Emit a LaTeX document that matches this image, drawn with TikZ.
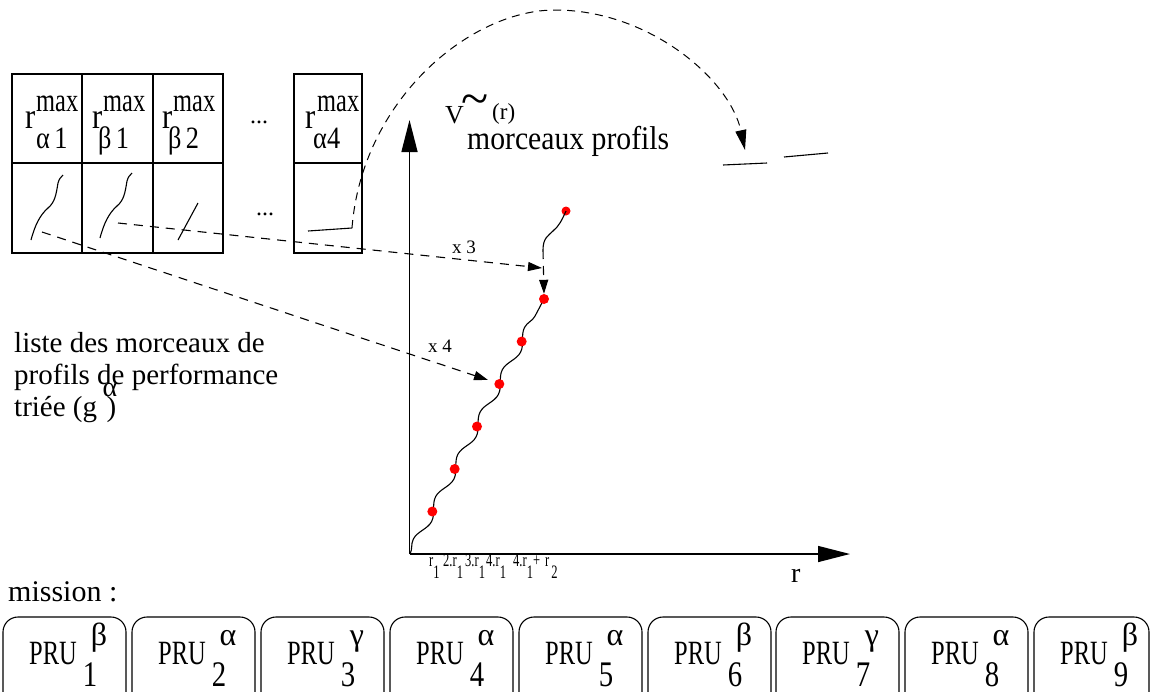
\documentclass[tikz,border=0pt]{standalone}
\usepackage{fontspec}
\setmainfont{Liberation Serif}
\usepackage{graphicx}
\usetikzlibrary{arrows.meta,decorations.pathmorphing,calc}
\newcommand{\fsz}[1]{\fontsize{#1pt}{#1pt}\selectfont}
\newcommand{\hsq}[2]{\scalebox{#1}[1]{#2}}
\begin{document}
\begin{tikzpicture}[x=1pt,y=-1pt,
  txt/.style={inner sep=0pt, anchor=base west},
  ctxt/.style={inner sep=0pt, anchor=base},
  frame/.style={line width=1.3pt},
  curve/.style={line width=1.1pt},
  dsh/.style={dash pattern=on 9pt off 7pt, line width=1.1pt},
  arcdsh/.style={dash pattern=on 8pt off 6pt, line width=1pt},
  axis/.style={line width=1.4pt, -{Triangle[length=32pt,width=16pt]}},
  tip/.style={-{Triangle[length=14pt,width=9pt]}},
  dotline/.style={dash pattern=on 1.5pt off 5pt, line width=1.3pt},
  reddot/.style={circle, fill=red, inner sep=0pt, minimum size=10pt},
  prubox/.style={line width=1.1pt, rounded corners=15pt},
]
\useasboundingbox (0,0) rectangle (1150,691);

% ---- table of pieces
\draw[frame] (12,74) rectangle (223,253);
\draw[frame] (12,163) -- (223,163);
\draw[frame] (82,74) -- (82,253);
\draw[frame] (153,74) -- (153,253);
\draw[frame] (294,74) rectangle (362,253);
\draw[frame] (294,163) -- (362,163);

\node[txt] (r1) at (25,128) {\fsz{36}\hsq{0.85}{r}};
\node[txt] (m1) at (36,111) {\fsz{33}\hsq{0.74}{max}};
\node[txt] (s1) at (36,148) {\fsz{31}\hsq{0.85}{α\,1}};
\node[txt] (r2) at (92,128) {\fsz{36}\hsq{0.85}{r}};
\node[txt] (m2) at (103,111) {\fsz{33}\hsq{0.74}{max}};
\node[txt] (s2) at (98,148) {\fsz{31}\hsq{0.85}{β\,1}};
\node[txt] (r3) at (162,128) {\fsz{36}\hsq{0.85}{r}};
\node[txt] (m3) at (173,111) {\fsz{33}\hsq{0.74}{max}};
\node[txt] (s3) at (168,148) {\fsz{31}\hsq{0.85}{β\,2}};
\node[txt] (r4) at (305,128) {\fsz{36}\hsq{0.85}{r}};
\node[txt] (m4) at (317,111) {\fsz{33}\hsq{0.74}{max}};
\node[txt] (s4) at (313,148) {\fsz{31}\hsq{0.85}{α4}};
\node (dh) at (259,122) {\fsz{24}...};
\node (dl) at (265,214) {\fsz{24}...};

% pieces of profiles
\draw[curve] (31,240) .. controls (35,225) and (40,215) .. (48,208)
  .. controls (55,202) and (56,195) .. (58,183) .. controls (59,179) and (61,177) .. (63,175);
\begin{scope}[shift={(69,-2)}]
\draw[curve] (31,240) .. controls (35,225) and (40,215) .. (48,208)
  .. controls (55,202) and (56,195) .. (58,183) .. controls (59,179) and (61,177) .. (63,175);
\end{scope}
\draw[curve] (178,240) -- (198,203);
\coordinate (q1) at (308,231);
\coordinate (a0) at (352,228);
\draw[curve] (q1) -- (a0);

% ---- graph
\coordinate (O) at (409.5,554);
\coordinate (ytip) at (409.5,120);
\coordinate (xtip) at (850,554);
\draw[axis] (O) -- (ytip);
\draw[axis] (O) -- (xtip);

\coordinate (w0) at (410,554);
\coordinate (w6) at (544,299);
\draw[curve, decorate, decoration={snake, segment length=47.8pt, amplitude=4pt}] (w0) -- (w6);
\foreach \k in {1,...,4}{
  \draw[dotline] ($(w0)!\k/6!(w6)$) -- ($(w0)!\k/6!(w6)$ |- O);
}
\foreach \k in {1,...,6}{
  \node[reddot] (p\k) at ($(w0)!\k/6!(w6)$) {};
}
\coordinate (t0) at (543,250);
\node[reddot, minimum size=9pt] (ptop) at (566,211) {};
\draw[curve] (t0) .. controls (543,238) and (548,236) .. (553,231)
  .. controls (559,226) and (562,220) .. (ptop.center);
\draw[dsh, tip] (t0) -- (p6.north);

% dashed arrows
\coordinate (st3) at (118,223);
\coordinate (en3) at (542,268);
\draw[dsh, tip] (st3) -- (en3);
\coordinate (st4) at (42,232);
\coordinate (en4) at (488,380);
\draw[dsh, tip] (st4) -- (en4);
\coordinate (a1) at (745,150);
\draw[arcdsh, -{Triangle[length=20pt,width=11pt]}] (a0) .. controls (362,100) and (470,10) .. (555,10)
  .. controls (650,10) and (730,80) .. (a1);
\draw[curve] (723,165) -- (767,163);
\draw[curve] (784,157) -- (828,153);

\node[txt] (x3) at (452,253) {\fsz{19}x 3};
\node[txt] (x4) at (428,352) {\fsz{19}x 4};

\node[txt] (V) at (445,123) {\fsz{26}V};
\node[txt] (tl) at (461,115) {\fsz{50}\char"7E};
\node[txt] (rr) at (492,119) {\fsz{23}(r)};
\node[txt] (mp) at (467,149) {\fsz{33}\hsq{0.9}{morceaux profils}};

% axis labels
\node[txt] (lb1) at (429,566) {\fsz{19}\hsq{0.66}{r\raisebox{-12pt}{1}}};
\node[txt] (lb2) at (443,566) {\fsz{19}\hsq{0.66}{2.r\raisebox{-12pt}{1}}};
\node[txt] (lb3) at (465,566) {\fsz{19}\hsq{0.66}{3.r\raisebox{-12pt}{1}}};
\node[txt] (lb4) at (486,566) {\fsz{19}\hsq{0.66}{4.r\raisebox{-12pt}{1}}};
\node[txt] (lb5) at (513,566) {\fsz{19}\hsq{0.66}{4.r\raisebox{-12pt}{1}+}};
\node[txt] (lb6) at (545,566) {\fsz{19}\hsq{0.66}{r\,\raisebox{-12pt}{2}}};
\node[txt] (rx) at (791,582) {\fsz{28}r};

% left text
\node[txt] (l1) at (14,352) {\fsz{29}liste des morceaux de};
\node[txt] (l2) at (14,384) {\fsz{29}profils de performance};
\node[txt] (l3) at (14,416) {\fsz{29}triée (g};
\node[txt] (l3a) at ($(l3.base east)+(5,-20)$) {\fsz{28}α};
\node[txt] (l3b) at ($(l3.base east)+(9,0)$) {\fsz{29})};

\node[txt] (mis) at (8,601) {\fsz{30}mission :};

% mission boxes
\foreach \i/\L/\W/\sb/\sp in {1/3/123/1/β, 2/132/123/2/α, 3/261/123/3/γ, 4/390/123/4/α,
  5/519/123/5/α, 6/648/123/6/β, 7/776/123/7/γ, 8/905/123/8/α, 9/1034/115/9/β}{
  \draw[prubox] (\L,617) rectangle ++(\W,90);
  \node[txt] (pru\i) at (\L+26,664) {\fsz{34}\hsq{0.72}{PRU}};
  \node[ctxt] (sb\i) at (\L+87,686) {\fsz{36}\hsq{0.8}{\sb}};
  \node[ctxt] (sp\i) at (\L+96,645) {\fsz{32}\sp};
}
\end{tikzpicture}
\end{document}
